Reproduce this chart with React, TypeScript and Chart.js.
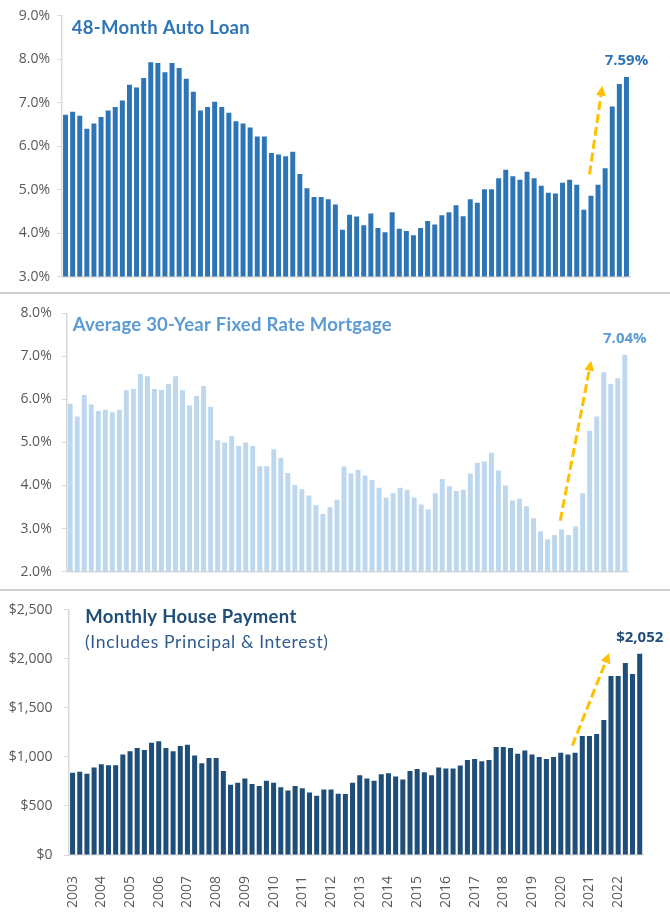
import React, { useEffect, useRef } from "react";
import { Chart, registerables } from "chart.js";

Chart.register(...registerables);

// ---------- data ----------
const years = [2003, 2004, 2005, 2006, 2007, 2008, 2009, 2010, 2011, 2012, 2013, 2014, 2015, 2016, 2017, 2018, 2019, 2020, 2021, 2022];
const quarterLabels = years.flatMap((y) => ["Q1", "Q2", "Q3", "Q4"].map((q) => `${y} ${q}`));

const autoLoanRate = [
  6.72, 6.79, 6.70, 6.40, 6.52, 6.67, 6.82, 6.90, 7.05, 7.41,
  7.35, 7.57, 7.93, 7.91, 7.70, 7.91, 7.80, 7.55, 7.25, 6.82,
  6.90, 7.02, 6.90, 6.77, 6.57, 6.52, 6.43, 6.22, 6.22, 5.84,
  5.81, 5.77, 5.87, 5.36, 5.03, 4.83, 4.83, 4.78, 4.66, 4.08,
  4.42, 4.38, 4.18, 4.45, 4.12, 4.02, 4.48, 4.10, 4.05, 3.95,
  4.12, 4.28, 4.20, 4.41, 4.48, 4.64, 4.39, 4.78, 4.70, 5.01,
  5.01, 5.26, 5.46, 5.31, 5.23, 5.41, 5.26, 5.09, 4.93, 4.91,
  5.16, 5.23, 5.11, 4.54, 4.86, 5.11, 5.49, 6.91, 7.43, 7.59,
];

const mortgageRate = [
  5.90, 5.60, 6.10, 5.88, 5.73, 5.76, 5.70, 5.76, 6.21, 6.24,
  6.59, 6.54, 6.24, 6.22, 6.36, 6.54, 6.21, 5.86, 6.08, 6.31,
  5.83, 5.05, 5.00, 5.15, 4.92, 5.00, 4.92, 4.45, 4.45, 4.84,
  4.64, 4.29, 4.01, 3.91, 3.77, 3.54, 3.34, 3.50, 3.67, 4.44,
  4.28, 4.36, 4.23, 4.13, 3.95, 3.72, 3.82, 3.95, 3.90, 3.72,
  3.56, 3.44, 3.82, 4.15, 3.98, 3.87, 3.90, 4.28, 4.53, 4.56,
  4.76, 4.35, 4.00, 3.65, 3.69, 3.52, 3.24, 2.94, 2.75, 2.85,
  2.98, 2.85, 3.05, 3.82, 5.27, 5.60, 6.63, 6.36, 6.49, 7.04,
];

const housePayment = [
  838, 848, 828, 892, 926, 916, 916, 1024, 1057, 1091,
  1071, 1145, 1159, 1091, 1057, 1111, 1125, 1014, 936, 990,
  990, 858, 716, 736, 780, 724, 703, 758, 736, 692,
  657, 703, 680, 637, 605, 668, 668, 624, 622, 737,
  814, 780, 757, 824, 834, 801, 770, 858, 878, 844,
  814, 892, 882, 882, 912, 970, 980, 956, 970, 1101,
  1101, 1091, 1034, 1067, 1024, 1000, 980, 1000, 1044, 1024,
  1044, 1213, 1213, 1233, 1378, 1827, 1827, 1959, 1847, 2052,
];

// arrow annotations in data coordinates: [category index, value]
const autoArrow = { from: [73.8, 5.35], to: [75.6, 7.39] };
const mortgageArrow = { from: [69.8, 3.18], to: [74.2, 6.9] };
const paymentArrow = { from: [69.6, 1115], to: [74.75, 2060] };

const FONT = '"Open Sans", "Liberation Sans", sans-serif';
const TITLE_FONT = 'Lato, "Open Sans", sans-serif';
const TICK_COLOR = "#595959";
const AXIS_COLOR = "#D9D9D9";
const ARROW_COLOR = "#FFC000";

type Plot = { left: number; right: number; top: number; bottom: number };
type Title = { text: string; left: number; centerY: number; size: number; weight: number; color: string; width: number };

type PanelProps = {
  top: number;
  height: number;
  plot: Plot;
  values: number[];
  color: string;
  yMin: number;
  yMax: number;
  yStep: number;
  fmt: (v: number) => string;
  tickPad: number;
  showYears: boolean;
  arrow: { from: number[]; to: number[] };
  callout: (v: number) => string;
  calloutColor: string;
  titles: Title[];
};

function Panel(p: PanelProps) {
  const ref = useRef<HTMLCanvasElement>(null);
  useEffect(() => {
    const canvas = ref.current!;
    const W = 670;
    const relTop = p.plot.top - p.top;
    const relBottom = p.plot.bottom - p.top;
    const xHeight = p.showYears ? p.height - relBottom : 0;

    const annot = {
      id: "annot",
      afterDatasetsDraw(chart: any) {
        const { ctx } = chart;
        const xs = chart.scales.x;
        const ys = chart.scales.y;
        const x1 = xs.getPixelForValue(p.arrow.from[0]);
        const y1 = ys.getPixelForValue(p.arrow.from[1]);
        const x2 = xs.getPixelForValue(p.arrow.to[0]);
        const y2 = ys.getPixelForValue(p.arrow.to[1]);
        const ang = Math.atan2(y2 - y1, x2 - x1);
        const headLen = 10;
        const headW = 5;
        const bx = x2 - headLen * Math.cos(ang);
        const by = y2 - headLen * Math.sin(ang);
        ctx.save();
        ctx.strokeStyle = ARROW_COLOR;
        ctx.lineWidth = 3;
        ctx.setLineDash([9, 4]);
        ctx.beginPath();
        ctx.moveTo(x1, y1);
        ctx.lineTo(bx, by);
        ctx.stroke();
        ctx.setLineDash([]);
        ctx.fillStyle = ARROW_COLOR;
        ctx.beginPath();
        ctx.moveTo(x2, y2);
        ctx.lineTo(bx + headW * Math.sin(ang), by - headW * Math.cos(ang));
        ctx.lineTo(bx - headW * Math.sin(ang), by + headW * Math.cos(ang));
        ctx.closePath();
        ctx.fill();

        const last = p.values.length - 1;
        const lx = xs.getPixelForValue(last);
        const ly = ys.getPixelForValue(p.values[last]) - 16;
        ctx.font = `normal bold 15px ${FONT}`;
        ctx.fillStyle = p.calloutColor;
        ctx.textAlign = "center";
        ctx.textBaseline = "middle";
        ctx.fillText(p.callout(p.values[last]), lx, ly);

        // titles
        ctx.textAlign = "left";
        ctx.textBaseline = "alphabetic";
        for (const t of p.titles) {
          ctx.font = `normal ${t.weight} ${t.size}px ${TITLE_FONT}`;
          (ctx as any).letterSpacing = "0px";
          const natural = ctx.measureText(t.text).width;
          const ls = (t.width - natural) / Math.max(1, t.text.length - 1);
          (ctx as any).letterSpacing = `${ls}px`;
          ctx.fillStyle = t.color;
          ctx.fillText(t.text, t.left, t.centerY - p.top + 0.36 * t.size);
        }
        (ctx as any).letterSpacing = "0px";
        ctx.restore();
      },
    };

    const chart = new Chart(canvas, {
      type: "bar",
      data: {
        labels: quarterLabels,
        datasets: [
          {
            data: p.values,
            backgroundColor: p.color,
            barPercentage: 0.7,
            categoryPercentage: 1,
          },
        ],
      },
      options: {
        animation: false,
        responsive: false,
        devicePixelRatio: 1,
        layout: {
          padding: {
            left: 0,
            top: relTop,
            right: W - p.plot.right,
            bottom: p.showYears ? 0 : p.height - relBottom,
          },
        },
        plugins: {
          legend: { display: false },
          tooltip: { enabled: false },
          title: { display: false },
        },
        scales: {
          x: {
            grid: { display: false },
            border: { display: true, color: AXIS_COLOR, width: 1.5 },
            ticks: {
              display: p.showYears,
              autoSkip: false,
              maxRotation: 90,
              minRotation: 90,
              padding: 13,
              color: TICK_COLOR,
              font: { family: FONT, size: 14 },
              callback: (_v: any, i: number) => (i % 4 === 0 ? String(years[i / 4]) : ""),
            },
            afterFit: (s: any) => {
              s.height = xHeight;
            },
          },
          y: {
            min: p.yMin,
            max: p.yMax,
            ticks: {
              stepSize: p.yStep,
              padding: p.tickPad,
              color: TICK_COLOR,
              font: { family: FONT, size: 14 },
              callback: (v: any) => p.fmt(Number(v)),
            },
            grid: {
              display: true,
              drawOnChartArea: false,
              drawTicks: true,
              tickLength: 5,
              color: AXIS_COLOR,
            },
            border: { display: true, color: AXIS_COLOR, width: 1.5 },
            afterFit: (s: any) => {
              s.width = p.plot.left;
            },
          },
        },
      } as any,
      plugins: [annot],
    });
    return () => chart.destroy();
  }, []);

  return (
    <canvas
      ref={ref}
      width={670}
      height={p.height}
      style={{ position: "absolute", left: 0, top: p.top, width: 670, height: p.height }}
    />
  );
}

export default function App() {
  return (
    <div style={{ position: "absolute", left: 0, top: 0, width: 670, height: 917, background: "#fff", overflow: "hidden" }}>
      <Panel
        top={0}
        height={292}
        plot={{ left: 62, right: 630, top: 15.7, bottom: 277.3 }}
        values={autoLoanRate}
        color="#2E75B6"
        yMin={3}
        yMax={9}
        yStep={1}
        fmt={(v) => `${v.toFixed(1)}%`}
        tickPad={7}
        showYears={false}
        arrow={autoArrow}
        callout={(v) => `${v.toFixed(2)}%`}
        calloutColor="#2E75B6"
        titles={[{ text: "48-Month Auto Loan", left: 71.7, centerY: 27.5, size: 18.5, weight: 700, color: "#2E75B6", width: 178 }]}
      />
      <Panel
        top={292}
        height={298}
        plot={{ left: 66.7, right: 628.3, top: 313.3, bottom: 572.7 }}
        values={mortgageRate}
        color="#BDD7EE"
        yMin={2}
        yMax={8}
        yStep={1}
        fmt={(v) => `${v.toFixed(1)}%`}
        tickPad={10}
        showYears={false}
        arrow={mortgageArrow}
        callout={(v) => `${v.toFixed(2)}%`}
        calloutColor="#5B9BD5"
        titles={[{ text: "Average 30-Year Fixed Rate Mortgage", left: 72.7, centerY: 324.5, size: 18.5, weight: 700, color: "#5B9BD5", width: 319 }]}
      />
      <Panel
        top={590}
        height={327}
        plot={{ left: 69, right: 643.3, top: 608.3, bottom: 855 }}
        values={housePayment}
        color="#1F4E79"
        yMin={0}
        yMax={2500}
        yStep={500}
        fmt={(v) => `$${v.toLocaleString("en-US")}`}
        tickPad={11.5}
        showYears={true}
        arrow={paymentArrow}
        callout={(v) => `$${v.toLocaleString("en-US")}`}
        calloutColor="#1F4E79"
        titles={[
          { text: "Monthly House Payment", left: 85.3, centerY: 616.7, size: 18.5, weight: 700, color: "#1F4E79", width: 211 },
          { text: "(Includes Principal & Interest)", left: 85, centerY: 641.8, size: 17.5, weight: 400, color: "#2F5B8F", width: 243 },
        ]}
      />
      <div style={{ position: "absolute", left: 0, top: 292, width: 670, height: 2, background: "#D0D0D0" }} />
      <div style={{ position: "absolute", left: 0, top: 589, width: 670, height: 2, background: "#D0D0D0" }} />
    </div>
  );
}
